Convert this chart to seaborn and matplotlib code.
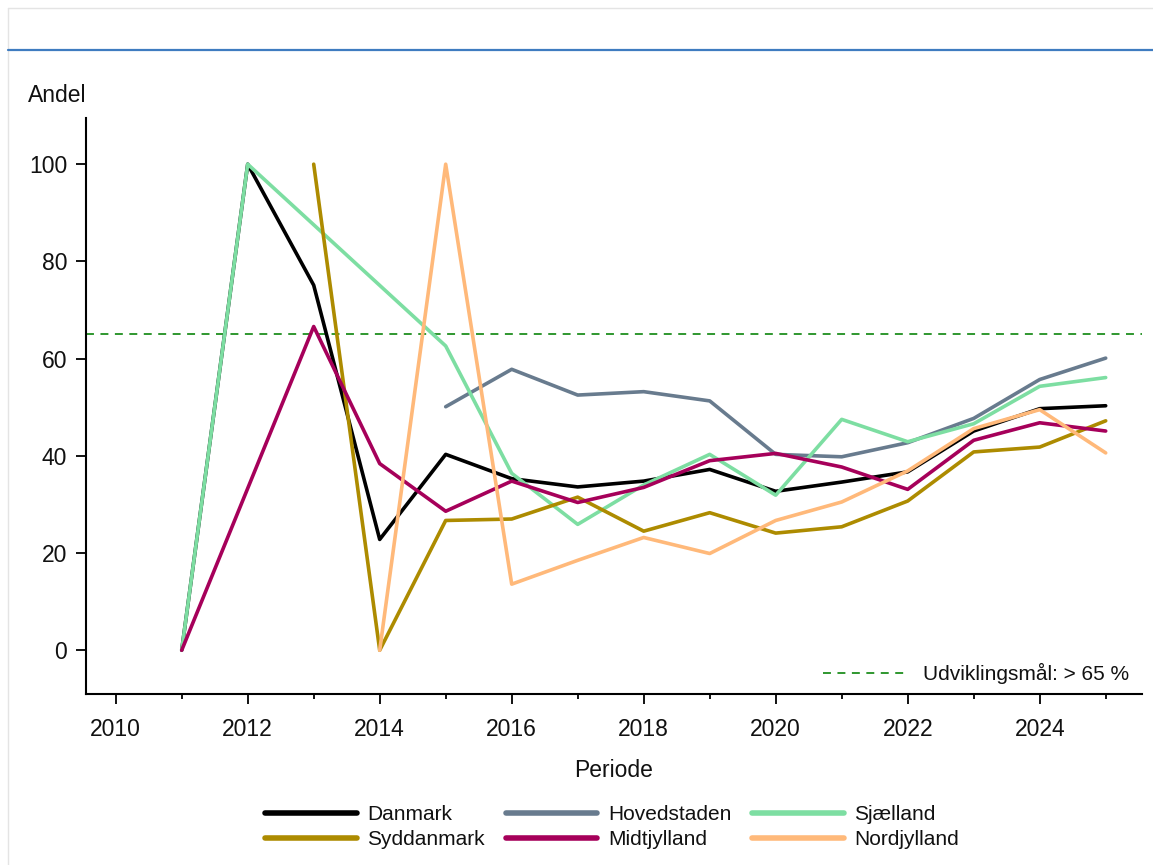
import numpy as np
import pandas as pd
import matplotlib
matplotlib.use("Agg")
import matplotlib.pyplot as plt
from matplotlib.lines import Line2D
import seaborn as sns

years = list(range(2011, 2026))
nan = np.nan

danmark = [0, 100, 75.1, 22.8, 40.3, 35.3, 33.6, 34.8, 37.2, 32.7, 34.6, 36.7, 45.1, 49.7, 50.3]
hovedstaden = [nan, nan, nan, nan, 50.1, 57.8, 52.5, 53.2, 51.3, 40.3, 39.8, 42.7, 47.7, 55.7, 60.1]
sjaelland = [0, 100, nan, nan, 62.6, 36.4, 25.9, 34.0, 40.3, 31.9, 47.5, 42.9, 46.6, 54.3, 56.1]
syddanmark = [nan, nan, 100, 0, 26.7, 27.0, 31.5, 24.5, 28.3, 24.1, 25.4, 30.7, 40.8, 41.8, 47.2]
midtjylland = [0, nan, 66.6, 38.4, 28.6, 34.8, 30.4, 33.5, 39.0, 40.5, 37.7, 33.1, 43.2, 46.8, 45.1]
nordjylland = [nan, nan, nan, 0, 100, 13.6, 18.5, 23.2, 19.9, 26.7, 30.5, 36.9, 45.6, 49.5, 40.6]

regions = ["Danmark", "Hovedstaden", "Sjælland", "Syddanmark", "Midtjylland", "Nordjylland"]
series = [danmark, hovedstaden, sjaelland, syddanmark, midtjylland, nordjylland]
colors = ["#000000", "#687b8e", "#7ddea2", "#ad8b00", "#a6005a", "#ffb97a"]

target = 65
target_label = "Udviklingsmål: > 65 %"

df = pd.DataFrame({"Periode": years})
for name, vals in zip(regions, series):
    df[name] = vals
long = df.melt(id_vars="Periode", var_name="Region", value_name="Andel").dropna()

sns.set_theme(style="ticks")
plt.rcParams["font.family"] = ["Liberation Sans", "DejaVu Sans"]
FS = 16.5      # axis text
LFS = 15       # legend text

W, H = 1153, 865
fig = plt.figure(figsize=(W / 100, H / 100), dpi=100)
ax = fig.add_axes([86 / W, 1 - 694 / H, (1142 - 86) / W, (694 - 118) / H])

sns.lineplot(data=long, x="Periode", y="Andel", hue="Region", hue_order=regions,
             palette=dict(zip(regions, colors)), estimator=None, linewidth=2.6,
             ax=ax, legend=True)

handles, labels = ax.get_legend_handles_labels()
ax.get_legend().remove()

goal = ax.axhline(target, color="#1f8f1f", linestyle=(0, (4.4, 3.6)), linewidth=1.3, zorder=1)

ax.set_xlim(2009.55, 2025.55)
ax.set_ylim(-9, 109.5)
ax.set_xticks(range(2010, 2026, 2))
ax.set_xticks(range(2011, 2026, 2), minor=True)
ax.set_yticks(range(0, 101, 20))
ax.tick_params(axis="both", which="major", length=7, width=1.3, labelsize=FS, color="black",
               labelcolor="#111111")
ax.tick_params(axis="x", which="minor", length=3.5, width=1.3, color="black")
ax.tick_params(axis="x", pad=10)
ax.tick_params(axis="y", pad=6.5)
for s in ["left", "bottom"]:
    ax.spines[s].set_linewidth(1.5)
    ax.spines[s].set_color("black")
for s in ["top", "right"]:
    ax.spines[s].set_visible(False)

ax.set_xlabel("Periode", fontsize=FS, labelpad=13, color="#111111")
ax.set_ylabel("")
fig.text(28 / W, 1 - 95 / H, "Andel", fontsize=FS, ha="left", va="center", color="#111111")

ax.legend([goal], [target_label], loc="lower right", frameon=False, fontsize=LFS,
          handlelength=3.9, handletextpad=0.9, borderaxespad=0.2,
          bbox_to_anchor=(1.0, -0.005), labelcolor="#111111")

# column-wise ordering so rows read Danmark/Hovedstaden/Sjælland, then the rest
order = ["Danmark", "Syddanmark", "Hovedstaden", "Midtjylland", "Sjælland", "Nordjylland"]
hmap = dict(zip(labels, handles))
leg_handles = []
for name in order:
    h = hmap[name]
    leg_handles.append(Line2D([], [], color=h.get_color(), linewidth=4))
fig.legend(leg_handles, order, ncol=3, loc="center", bbox_to_anchor=(612 / W, 1 - 827 / H),
           frameon=False, fontsize=LFS, handlelength=4.4, handletextpad=0.5,
           columnspacing=1.0, labelspacing=0.3, labelcolor="#111111")

# page frame and header rule
fig.add_artist(Line2D([8 / W, 1], [1 - 8 / H, 1 - 8 / H], transform=fig.transFigure,
                      color="#e4e4e4", linewidth=1))
fig.add_artist(Line2D([8 / W, 8 / W], [0, 1 - 8 / H], transform=fig.transFigure,
                      color="#e4e4e4", linewidth=1))
fig.add_artist(Line2D([8 / W, 1], [1 - 50 / H, 1 - 50 / H], transform=fig.transFigure,
                      color="#3f7cc0", linewidth=1.6))

fig.savefig("out.png", dpi=100, facecolor="white")
